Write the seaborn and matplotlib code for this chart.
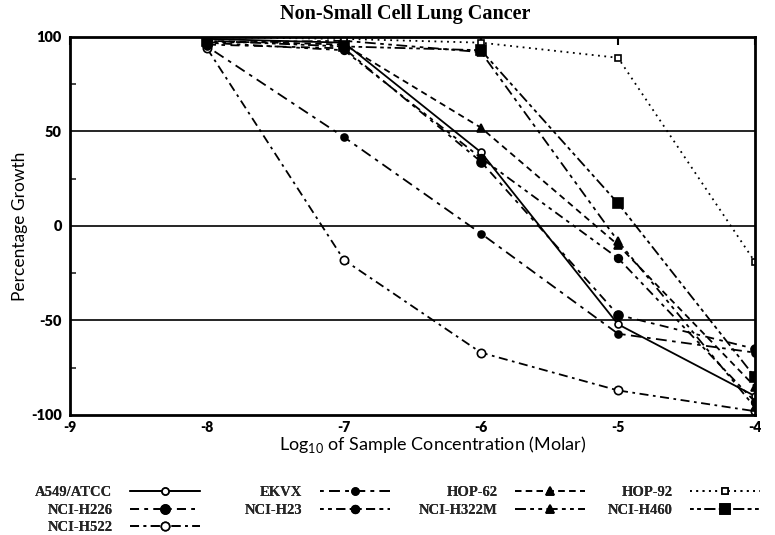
import matplotlib
matplotlib.use("Agg")
import matplotlib.pyplot as plt
import seaborn as sns
import pandas as pd
from matplotlib.ticker import MultipleLocator

sns.set_theme(style="white")
plt.rcParams['font.family'] = ['Liberation Serif', 'DejaVu Serif']
plt.rcParams['axes.unicode_minus'] = False
plt.rcParams['mathtext.fontset'] = 'custom'
plt.rcParams['mathtext.rm'] = 'Lato'

conc = [-8, -7, -6, -5, -4]
a549 = [99, 97, 39, -52, -90]
nci_h226 = [96, 94, 34, -47, -65]
nci_h522 = [94, -18, -67, -87, -98]
ekvx = [95, 47, -4, -57, -67]
nci_h23 = [97, 93, 36, -17, -93]
hop62 = [98, 96, 52, -10, -85]
nci_h322m = [97, 98, 92, -8, -96]
hop92 = [100, 99, 97, 89, -19]
nci_h460 = [98, 95, 93, 12, -80]

names = ["A549/ATCC", "NCI-H226", "NCI-H522", "EKVX", "NCI-H23",
         "HOP-62", "NCI-H322M", "HOP-92", "NCI-H460"]
values = [a549, nci_h226, nci_h522, ekvx, nci_h23, hop62, nci_h322m, hop92, nci_h460]
legend_columns = [["A549/ATCC", "NCI-H226", "NCI-H522"], ["EKVX", "NCI-H23"],
                  ["HOP-62", "NCI-H322M"], ["HOP-92", "NCI-H460"]]

styles = {
    "A549/ATCC": dict(ls="-", marker="o", mfc="white", ms=5),
    "NCI-H226": dict(ls=(0, (5, 3, 2, 3)), marker="o", mfc="black", ms=6.5),
    "NCI-H522": dict(ls=(0, (5, 2.5, 1.5, 2.5)), marker="o", mfc="white", ms=6),
    "EKVX": dict(ls=(0, (2, 3, 6, 3)), marker="o", mfc="black", ms=5),
    "NCI-H23": dict(ls=(0, (2, 2.5, 2, 2.5, 5, 2.5)), marker="o", mfc="black", ms=5.5),
    "HOP-62": dict(ls=(0, (3.5, 2.5)), marker="^", mfc="black", ms=5.5),
    "NCI-H322M": dict(ls=(0, (6, 2.5, 2, 2.5, 2, 2.5)), marker="^", mfc="black", ms=5.5),
    "HOP-92": dict(ls=(0, (1, 2.5)), marker="s", mfc="white", ms=5),
    "NCI-H460": dict(ls=(0, (2, 2, 2, 2, 6, 2)), marker="s", mfc="black", ms=6.5),
}

W, H = 775, 535
fig = plt.figure(figsize=(W / 100, H / 100), dpi=100)
ax = fig.add_axes([70 / W, 1 - 415 / H, 685 / W, 378 / H])

for name, vals in zip(names, values):
    st = styles[name]
    df = pd.DataFrame({"conc": conc, "growth": vals})
    sns.lineplot(data=df, x="conc", y="growth", ax=ax, color="black",
                 linestyle=st["ls"], marker=st["marker"], markersize=st["ms"],
                 markerfacecolor=st["mfc"], markeredgecolor="black",
                 markeredgewidth=1.2, linewidth=1.3, label=name,
                 errorbar=None, legend=False)

for yv in [50, 0, -50]:
    ax.axhline(yv, color="black", lw=1.2, zorder=0)

ax.set_xlim(-9, -4)
ax.set_ylim(-100, 100)
ax.set_xticks([-9, -8, -7, -6, -5, -4])
ax.set_yticks([100, 50, 0, -50, -100])
ax.yaxis.set_minor_locator(MultipleLocator(25))
ax.tick_params(axis="both", which="major", direction="in", length=6, width=1.5,
               top=True, right=False, colors="black")
ax.tick_params(axis="x", labelsize=10, pad=4)
ax.tick_params(axis="y", labelsize=10.5, pad=6)
ax.tick_params(axis="y", which="minor", direction="in", length=4, width=1.2, left=True)
for lab in ax.get_xticklabels() + ax.get_yticklabels():
    lab.set_fontweight("heavy")
    lab.set_family(["Lato", "DejaVu Sans"])
for sp in ax.spines.values():
    sp.set_color("black")
    sp.set_linewidth(2)

ax.set_xlabel(r"Log$_{10}$ of Sample Concentration (Molar)", fontsize=13,
              color="black", family=["Lato", "DejaVu Sans"])
ax.xaxis.set_label_coords(0.53, -0.05)
ax.set_ylabel("Percentage Growth", fontsize=12.5, color="black",
              family=["Lato", "DejaVu Sans"])
ax.yaxis.set_label_coords(-0.062, 0.5)
fig.text(405 / W, 1 - 14 / H, "Non-Small Cell Lung Cancer", fontsize=14.5,
         fontweight="bold", ha="center", va="center", color="black")

handles, labels = ax.get_legend_handles_labels()
hmap = dict(zip(labels, handles))
right_edges = [200, 390, 585, 760]
for col, xr in zip(legend_columns, right_edges):
    leg = fig.legend([hmap[n] for n in col], col, loc="upper right",
                     bbox_to_anchor=(xr / W, 1 - 486 / H), frameon=False,
                     markerfirst=False, fontsize=10.5, handlelength=4.8,
                     handletextpad=1.2, labelspacing=0.3, borderpad=0,
                     borderaxespad=0)
    for t in leg.get_texts():
        t.set_fontweight("bold")
    fig.add_artist(leg)

fig.savefig("out.png", dpi=100)
